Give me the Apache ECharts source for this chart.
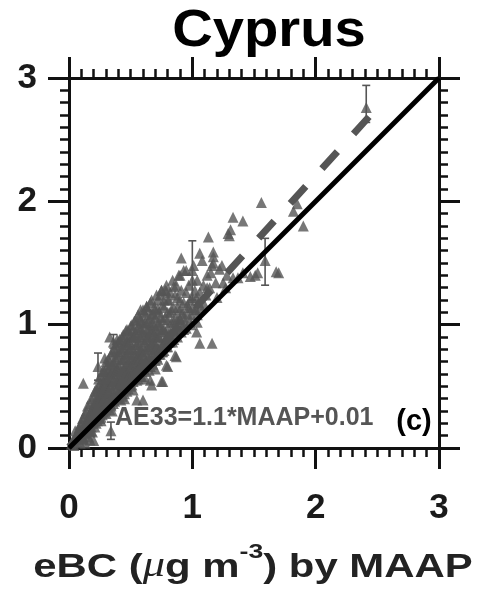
<!DOCTYPE html>
<html>
<head>
<meta charset="utf-8">
<script src="https://cdn.jsdelivr.net/npm/echarts@6/dist/echarts.min.js"></script>
<style>
  html, body { margin: 0; padding: 0; background: #fff; }
  #chart { width: 484px; height: 601px; }
</style>
</head>
<body>
<div id="chart"></div>
<script>
// Paired eBC samples [MAAP, AE33] in µg m-3
const samples = [
  [0.02,0.03],[0.03,0.06],[0.04,0.02],[0.05,0.09],[0.06,0.05],[0.07,0.12],[0.08,0.08],[0.08,0.16],
  [0.09,0.04],[0.10,0.11],[0.10,0.20],[0.11,0.15],[0.12,0.07],[0.12,0.25],[0.13,0.19],[0.14,0.12],
  [0.14,0.30],[0.15,0.23],[0.16,0.09],[0.16,0.16],[0.17,0.28],[0.17,0.36],[0.18,0.20],[0.19,0.13],
  [0.19,0.32],[0.20,0.42],[0.20,0.25],[0.21,0.17],[0.22,0.36],[0.22,0.48],[0.23,0.29],[0.23,0.22],
  [0.24,0.41],[0.24,0.56],[0.25,0.33],[0.26,0.25],[0.26,0.47],[0.27,0.62],[0.27,0.38],[0.28,0.52],
  [0.28,0.29],[0.29,0.44],[0.30,0.34],[0.30,0.58],[0.30,0.70],[0.31,0.49],[0.32,0.40],[0.32,0.64],
  [0.33,0.31],[0.33,0.55],[0.34,0.76],[0.35,0.45],[0.35,0.68],[0.36,0.36],[0.36,0.60],[0.37,0.51],
  [0.37,0.80],[0.38,0.72],[0.38,0.42],[0.39,0.64],[0.40,0.56],[0.40,0.86],[0.41,0.47],[0.41,0.76],
  [0.42,0.39],[0.42,0.68],[0.43,0.60],[0.43,0.90],[0.44,0.52],[0.44,0.81],[0.45,0.44],[0.45,0.72],
  [0.46,0.63],[0.46,0.95],[0.47,0.56],[0.47,0.86],[0.48,0.48],[0.48,0.77],[0.49,0.68],[0.50,0.99],
  [0.50,0.59],[0.51,0.90],[0.51,0.51],[0.52,0.80],[0.52,0.70],[0.53,1.03],[0.53,0.62],[0.54,0.93],
  [0.55,0.55],[0.55,0.84],[0.56,0.74],[0.56,1.08],[0.57,0.66],[0.58,0.97],[0.58,0.58],[0.59,0.88],
  [0.59,0.78],[0.60,1.12],[0.60,0.69],[0.61,1.01],[0.62,0.62],[0.62,0.92],[0.63,0.82],[0.63,1.15],
  [0.64,0.73],[0.65,1.05],[0.65,0.96],[0.66,0.66],[0.66,0.86],[0.67,1.20],[0.68,0.77],[0.68,1.09],
  [0.69,0.99],[0.70,0.71],[0.70,0.90],[0.71,1.24],[0.72,0.81],[0.72,1.13],[0.73,1.02],[0.74,0.76],
  [0.75,0.94],[0.75,1.28],[0.76,1.16],[0.77,0.85],[0.78,1.06],[0.79,1.32],[0.80,0.98],[0.80,0.82],
  [0.81,1.20],[0.82,1.10],[0.83,0.90],[0.84,1.36],[0.85,1.02],[0.86,1.24],[0.87,0.95],[0.88,1.14],
  [0.89,1.40],[0.90,1.05],[0.91,1.28],[0.92,0.99],[0.93,1.18],[0.95,1.44],[0.96,1.09],[0.97,1.32],
  [0.98,1.03],[1.00,1.22],[1.01,1.48],[1.03,1.12],[1.04,1.36],[1.06,1.26],[1.08,1.52],[1.10,1.16],
  [1.12,1.40],[1.14,1.30],[1.17,1.55],[1.20,1.22],[1.22,1.45],[1.25,1.34],[1.28,1.40],[1.33,1.38],
  [1.37,1.38],[1.41,1.42],[1.47,1.39],[1.51,1.40],[1.53,1.42],
  [0.116,0.525],[0.17,0.065],[0.20,0.06],[0.13,0.04],[0.29,0.73],[0.33,0.90],[0.39,0.88],
  [0.55,0.39],[0.60,0.39],[0.66,0.55],[0.67,0.51],[0.75,0.54],[0.76,0.54],[0.79,0.67],[0.80,0.66],
  [0.86,0.75],[0.87,0.74],[1.035,0.94],[1.06,0.85],[1.16,0.85],[0.58,1.12],[0.63,1.15],[0.79,1.27],
  [0.90,1.40],[0.91,1.54],[0.93,1.44],[1.00,1.36],[1.06,1.58],[1.13,1.71],[1.16,1.48],[1.17,1.59],
  [1.17,1.50],[1.30,1.72],[1.31,1.77],[1.29,1.74],[1.33,1.87],[1.41,1.84],[1.56,1.99],[1.82,1.92],
  [1.85,1.98],[1.90,1.80],[1.68,1.43],[1.70,1.42],[0.75,1.28],[0.85,1.31],[0.80,1.20],[0.98,1.20],
  [1.02,1.12],[1.04,1.02],[0.90,1.04],[0.93,0.96],[0.71,0.90]
];

// Further samples from the densest part of the range (MAAP below ~1.3 µg m-3)
const denseSamples = [
  [0.05,0.14],[0.06,0.11],[0.07,0.07],[0.09,0.19],[0.10,0.15],[0.11,0.09],[0.11,0.24],[0.13,0.13],
  [0.13,0.28],[0.15,0.17],[0.15,0.34],[0.16,0.26],[0.17,0.13],[0.18,0.31],[0.18,0.40],[0.19,0.22],
  [0.20,0.34],[0.21,0.27],[0.21,0.46],[0.22,0.20],[0.23,0.40],[0.24,0.27],[0.24,0.50],[0.25,0.44],
  [0.25,0.24],[0.26,0.37],[0.26,0.58],[0.27,0.30],[0.28,0.45],[0.28,0.63],[0.29,0.36],[0.29,0.55],
  [0.30,0.28],[0.31,0.62],[0.31,0.40],[0.32,0.52],[0.32,0.72],[0.33,0.44],[0.34,0.60],[0.34,0.35],
  [0.35,0.54],[0.35,0.78],[0.36,0.70],[0.36,0.45],[0.37,0.38],[0.37,0.63],[0.38,0.56],[0.38,0.84],
  [0.39,0.48],[0.39,0.74],[0.40,0.40],[0.40,0.67],[0.41,0.58],[0.41,0.88],[0.42,0.50],[0.42,0.80],
  [0.43,0.44],[0.43,0.72],[0.44,0.64],[0.44,0.92],[0.45,0.56],[0.45,0.84],[0.46,0.48],[0.46,0.76],
  [0.47,0.68],[0.47,0.96],[0.48,0.60],[0.48,0.88],[0.49,0.52],[0.49,0.80],[0.50,0.72],[0.50,0.92],
  [0.51,0.64],[0.51,1.00],[0.52,0.56],[0.52,0.90],[0.53,0.76],[0.53,0.84],[0.54,0.68],[0.54,1.04],
  [0.55,0.60],[0.55,0.96],[0.56,0.86],[0.56,0.66],[0.57,0.78],[0.57,1.06],[0.58,0.70],[0.58,0.90],
  [0.59,0.64],[0.59,1.02],[0.60,0.82],[0.60,0.94],[0.61,0.74],[0.61,1.10],[0.62,0.68],[0.62,1.02],
  [0.63,0.88],[0.63,0.96],[0.64,0.80],[0.64,1.12],[0.65,0.72],[0.65,0.90],[0.66,1.00],[0.66,1.18],
  [0.67,0.84],[0.67,0.70],[0.68,0.94],[0.68,1.02],[0.69,0.76],[0.69,1.14],[0.70,0.84],[0.70,1.06],
  [0.71,0.96],[0.71,0.74],[0.72,1.20],[0.72,0.90],[0.73,0.80],[0.73,1.10],[0.74,0.98],[0.74,1.24],
  [0.75,0.86],[0.76,1.04],[0.76,0.78],[0.77,1.14],[0.77,0.96],[0.78,0.88],[0.78,1.28],[0.79,0.82],
  [0.80,1.10],[0.81,0.92],[0.82,1.26],[0.83,1.02],[0.84,0.86],[0.85,1.14],[0.86,0.94],[0.87,1.32],
  [0.88,1.04],[0.89,0.98],[0.90,1.20],[0.92,1.10],[0.94,1.02],[0.95,1.26],[0.97,1.14],[0.99,1.08],
  [1.02,1.28],[1.05,1.18],[1.09,1.32],[1.11,1.24],[1.15,1.42],[1.19,1.34],[1.24,1.48],[1.27,1.30]
];

// Samples lying close to the 1:1 line
const nearLineSamples = [
  [0.04,0.05],[0.07,0.09],[0.09,0.10],[0.11,0.12],[0.13,0.15],[0.15,0.14],[0.17,0.19],[0.18,0.17],
  [0.20,0.21],[0.22,0.24],[0.23,0.25],[0.25,0.27],[0.27,0.27],[0.28,0.32],[0.30,0.31],[0.31,0.33],
  [0.33,0.36],[0.34,0.34],[0.36,0.39],[0.37,0.41],[0.39,0.41],[0.40,0.44],[0.42,0.45],[0.43,0.42],
  [0.44,0.48],[0.46,0.50],[0.47,0.46],[0.49,0.53],[0.50,0.50],[0.52,0.54],[0.53,0.57],[0.55,0.58],
  [0.56,0.56],[0.58,0.62],[0.59,0.58],[0.61,0.64],[0.62,0.66],[0.64,0.66],[0.65,0.63],[0.67,0.71],
  [0.68,0.68],[0.70,0.74],[0.72,0.72],[0.73,0.76],[0.75,0.78],[0.77,0.79],[0.79,0.84],[0.82,0.86],
  [0.85,0.88],[0.88,0.90],[0.91,0.94],[0.95,0.97],[0.99,1.00],[1.04,1.08],
  [0.10,0.08],[0.18,0.14],[0.26,0.22],[0.35,0.30],[0.45,0.40],[0.52,0.47],[0.62,0.56],[0.70,0.64]
];

// Samples filling the middle of the band
const midBandSamples = [
  [0.08,0.12],[0.12,0.17],[0.14,0.21],[0.16,0.21],[0.17,0.24],[0.19,0.28],[0.20,0.30],[0.21,0.38],
  [0.22,0.31],[0.23,0.34],[0.23,0.46],[0.24,0.37],[0.25,0.52],[0.26,0.42],[0.27,0.49],[0.27,0.56],
  [0.28,0.40],[0.29,0.50],[0.29,0.62],[0.30,0.45],[0.31,0.56],[0.31,0.67],[0.32,0.46],[0.33,0.60],
  [0.33,0.70],[0.34,0.50],[0.35,0.62],[0.35,0.40],[0.36,0.54],[0.37,0.68],[0.38,0.62],[0.38,0.78],
  [0.39,0.52],[0.40,0.62],[0.40,0.78],[0.41,0.52],[0.42,0.62],[0.42,0.86],[0.43,0.54],[0.43,0.80],
  [0.44,0.58],[0.44,0.72],[0.45,0.64],[0.45,0.90],[0.46,0.56],[0.46,0.84],[0.47,0.62],[0.47,0.76],
  [0.48,0.70],[0.48,0.95],[0.49,0.60],[0.49,0.86],[0.50,0.66],[0.50,0.80],[0.51,0.58],[0.51,0.74],
  [0.52,0.62],[0.52,0.96],[0.53,0.70],[0.53,0.90],[0.54,0.76],[0.54,0.62],[0.55,0.72],[0.55,0.90],
  [0.56,0.80],[0.56,0.98],[0.57,0.72],[0.57,0.60],[0.58,0.80],[0.58,1.04],[0.59,0.70],[0.59,0.94],
  [0.60,0.76],[0.60,0.64],[0.61,0.86],[0.61,0.68],[0.62,0.78],[0.62,1.08],[0.63,0.70],[0.64,0.90],
  [0.64,1.02],[0.65,0.80],[0.66,0.74],[0.66,0.94],[0.67,1.08],[0.68,0.86],[0.69,0.82],[0.69,0.92],
  [0.70,1.12],[0.71,0.82],[0.72,1.00],[0.73,0.90],[0.74,1.06],[0.75,0.82],[0.76,0.96],[0.77,1.20],
  [0.78,0.94],[0.80,1.04],[0.81,0.86],[0.83,1.12],[0.84,0.96],[0.86,1.06],[0.88,1.22],[0.90,1.12],
  [0.93,1.06],[0.96,1.16],[1.00,1.14],[1.03,1.22],[1.07,1.14],[1.12,1.30]
];

// Binned means with spread (MAAP bin centre, mean AE33, low, high)
const binMaap = [0.235, 0.34, 0.36, 1.00, 1.59, 2.41];
const binMean = [0.66, 0.14, 0.86, 1.44, 1.52, 2.76];
const binLow  = [0.55, 0.07, 0.81, 1.20, 1.32, 2.64];
const binHigh = [0.77, 0.21, 0.92, 1.68, 1.70, 2.94];

// Linear fit AE33 = slope * MAAP + intercept
const fitSlope = 1.1;
const fitIntercept = 0.01;
const fitRange = [0, 2.56];

const axisTicks = [0, 1, 2, 3];

const markColor = '#555555';
const inkColor = '#111111';

const chart = echarts.init(document.getElementById('chart'), null, { renderer: 'canvas' });

const binData = binMaap.map((x, i) => [x, binMean[i], binLow[i], binHigh[i]]);
const fitData = fitRange.map(x => [x, fitSlope * x + fitIntercept]);

function axisBase(pos, showLabel) {
  return {
    type: 'value',
    position: pos,
    min: axisTicks[0],
    max: axisTicks[axisTicks.length - 1],
    interval: 1,
    axisLine: { show: true, onZero: false, lineStyle: { color: inkColor, width: 3 } },
    axisTick: { show: true, inside: false, length: 21, lineStyle: { color: inkColor, width: 3 } },
    minorTick: { show: true, splitNumber: 10, length: 9, lineStyle: { color: inkColor, width: 2.5 } },
    splitLine: { show: false },
    minorSplitLine: { show: false },
    axisLabel: {
      show: showLabel,
      fontFamily: 'Liberation Sans, Arial, sans-serif',
      fontWeight: 'bold',
      fontSize: 35,
      color: '#1a1a1a',
      margin: pos === 'bottom' ? 43 : 32
    }
  };
}

const triangleSeries = (name, data, z) => ({
  name: name,
  type: 'scatter',
  symbol: 'triangle',
  symbolSize: 11,
  itemStyle: { color: markColor },
  data: data,
  z: z
});

const option = {
  animation: false,
  backgroundColor: '#ffffff',
  grid: { left: 69, top: 78, width: 370, height: 370, containLabel: false },
  xAxis: [axisBase('bottom', true), axisBase('top', false)],
  yAxis: [axisBase('left', true), axisBase('right', false)],
  series: [
    triangleSeries('samples', samples, 2),
    triangleSeries('dense samples', denseSamples, 2),
    triangleSeries('near 1:1', nearLineSamples, 2),
    triangleSeries('mid band', midBandSamples, 2),
    triangleSeries('bin means', binData.map(d => [d[0], d[1]]), 3),
    {
      name: 'spread',
      type: 'custom',
      data: binData,
      z: 4,
      renderItem: function (params, api) {
        const x = api.value(0);
        const top = api.coord([x, api.value(3)]);
        const bot = api.coord([x, api.value(2)]);
        const half = 4;
        const style = { stroke: markColor, lineWidth: 1.6 };
        return {
          type: 'group',
          children: [
            { type: 'line', shape: { x1: top[0], y1: top[1], x2: bot[0], y2: bot[1] }, style: style },
            { type: 'line', shape: { x1: top[0] - half, y1: top[1], x2: top[0] + half, y2: top[1] }, style: style },
            { type: 'line', shape: { x1: bot[0] - half, y1: bot[1], x2: bot[0] + half, y2: bot[1] }, style: style }
          ]
        };
      }
    },
    {
      name: 'fit',
      type: 'line',
      data: fitData,
      showSymbol: false,
      lineStyle: { color: markColor, width: 7, type: [23, 24], cap: 'butt' },
      z: 5
    },
    {
      name: '1:1',
      type: 'line',
      data: [[0, 0], [3, 3]],
      showSymbol: false,
      lineStyle: { color: '#000000', width: 5 },
      z: 6
    }
  ],
  graphic: [
    {
      type: 'text',
      x: 269, y: 32,
      scaleX: 1.08,
      style: {
        text: 'Cyprus',
        fontFamily: 'Liberation Sans, Arial, sans-serif',
        fontWeight: 'bold',
        fontSize: 52,
        fill: '#000000',
        align: 'center',
        verticalAlign: 'middle'
      }
    },
    {
      type: 'text',
      x: 115, y: 418,
      style: {
        text: 'AE33=1.1*MAAP+0.01',
        fontFamily: 'Liberation Sans, Arial, sans-serif',
        fontWeight: 'bold',
        fontSize: 25,
        fill: markColor,
        align: 'left',
        verticalAlign: 'middle'
      },
      z: 10
    },
    {
      type: 'text',
      x: 414, y: 422,
      style: {
        text: '(c)',
        fontFamily: 'Liberation Sans, Arial, sans-serif',
        fontWeight: 'bold',
        fontSize: 29,
        fill: '#000000',
        align: 'center',
        verticalAlign: 'middle'
      },
      z: 10
    },
    {
      type: 'text',
      x: 253, y: 559,
      scaleX: 1.27,
      style: {
        text: '{b|eBC (}{mu|μ}{b|g m}{sup|-3}{b|) by MAAP}',
        align: 'center',
        verticalAlign: 'middle',
        rich: {
          b: {
            fontFamily: 'Liberation Sans, Arial, sans-serif',
            fontWeight: 'bold', fontSize: 33, fill: '#222222', lineHeight: 50,
            verticalAlign: 'bottom'
          },
          mu: {
            fontFamily: 'Liberation Serif, serif',
            fontStyle: 'italic', fontSize: 35, fill: '#222222', lineHeight: 50,
            verticalAlign: 'bottom'
          },
          sup: {
            fontFamily: 'Liberation Sans, Arial, sans-serif',
            fontWeight: 'bold', fontSize: 21, fill: '#222222', lineHeight: 22,
            verticalAlign: 'top',
            padding: [8, 0, 0, 0]
          }
        }
      }
    }
  ]
};

chart.setOption(option);
</script>
</body>
</html>
